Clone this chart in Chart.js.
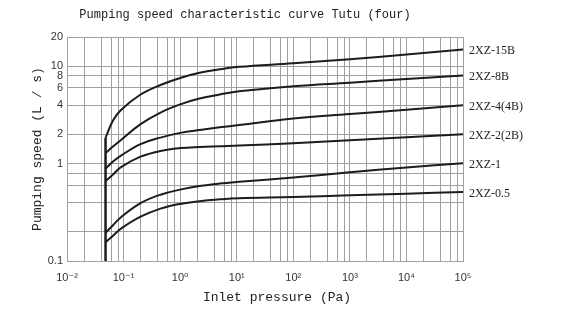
<!DOCTYPE html>
<html lang="en">
<head>
<meta charset="UTF-8">
<title>Pumping speed characteristic curve</title>
<style>
  html, body { margin: 0; padding: 0; background: #fff; }
</style>
</head>
<body>
<canvas id="myChart" width="571" height="323"></canvas>

<script src="https://cdn.jsdelivr.net/npm/chart.js@4.4.1/dist/chart.umd.min.js"></script>
<script>
// inlet pressure (Pa) where the curves were read
const pressure = [0.048, 0.065, 0.09, 0.2, 0.45, 1, 2.2, 5, 11, 100, 1000, 10000, 100000];

const pumpModels = ['2XZ-15B', '2XZ-8B', '2XZ-4(4B)', '2XZ-2(2B)', '2XZ-1', '2XZ-0.5'];

// pumping speed (L/s)
const speed15B = [1.84, 2.77, 3.56, 5.13, 6.43, 7.59, 8.57, 9.31, 9.87, 10.75, 11.85, 13.22, 14.9];
const speed8B  = [1.285, 1.5, 1.75, 2.55, 3.35, 4.06, 4.66, 5.13, 5.54, 6.25, 6.79, 7.4, 8.05];
const speed4B  = [0.89, 1.05, 1.21, 1.59, 1.85, 2.07, 2.22, 2.36, 2.49, 2.91, 3.23, 3.58, 3.97];
const speed2B  = [0.662, 0.772, 0.923, 1.18, 1.35, 1.444, 1.485, 1.51, 1.532, 1.62, 1.74, 1.87, 2.0];
const speed1   = [0.195, 0.233, 0.282, 0.393, 0.48, 0.541, 0.588, 0.624, 0.65, 0.721, 0.814, 0.914, 1.01];
const speed05  = [0.156, 0.182, 0.215, 0.285, 0.345, 0.386, 0.412, 0.43, 0.442, 0.454, 0.473, 0.492, 0.511];

// the common vertical start line
const riseX = [0.048, 0.048];
const riseY = [0.1, 1.84];

// axes
const xDecades = [0.01, 0.1, 1, 10, 100, 1000, 10000, 100000];
const xTickLabels = ['10⁻²', '10⁻¹', '10⁰', '10¹', '10²', '10³', '10⁴', '10⁵'];
const xMinor = [2, 4, 6, 8];
const yGrid = [0.1, 0.2, 0.4, 0.6, 0.8, 1, 2, 4, 6, 8, 10, 20];
const yTickLabels = ['0.1', '', '', '', '', '1', '2', '4', '6', '8', '10', '20'];

const xGrid = [];
xDecades.forEach((d, i) => {
  xGrid.push(d);
  if (i < xDecades.length - 1) xMinor.forEach(m => xGrid.push(Number((m * d).toPrecision(3))));
});

const curves = [speed15B, speed8B, speed4B, speed2B, speed1, speed05];
const lineColor = '#1c1c1c';

const datasets = curves.map((arr, i) => ({
  label: pumpModels[i],
  endLabel: pumpModels[i],
  data: pressure.map((p, j) => ({ x: p, y: arr[j] })),
  borderColor: lineColor,
  borderWidth: 2,
  pointRadius: 0,
  showLine: true,
  tension: 0.4
}));
datasets.push({
  label: 'start',
  data: riseX.map((x, j) => ({ x: x, y: riseY[j] })),
  borderColor: lineColor,
  borderWidth: 2.5,
  pointRadius: 0,
  showLine: true
});

// title, x title and the model names at the right
const captions = {
  id: 'captions',
  afterDatasetsDraw(chart) {
    const { ctx, chartArea } = chart;
    ctx.save();
    ctx.fillStyle = '#222';
    ctx.textBaseline = 'middle';
    ctx.textAlign = 'center';
    ctx.font = '12px "Liberation Mono", "DejaVu Sans Mono", monospace';
    ctx.fillText('Pumping speed characteristic curve Tutu (four)', 245, 15);
    ctx.font = '13px "Liberation Mono", "DejaVu Sans Mono", monospace';
    ctx.fillText('Inlet pressure (Pa)', 277, 298);

    ctx.textAlign = 'left';
    ctx.font = '12px "Liberation Serif", serif';
    chart.data.datasets.forEach((ds, i) => {
      if (!ds.endLabel) return;
      const pts = chart.getDatasetMeta(i).data;
      ctx.fillText(ds.endLabel, chartArea.right + 6, pts[pts.length - 1].y + 1.5);
    });
    ctx.restore();
  }
};

const ctx = document.getElementById('myChart');
const myChart = new Chart(ctx, {
  type: 'scatter',
  data: { datasets: datasets },
  plugins: [captions],
  options: {
    responsive: false,
    animation: false,
    layout: { padding: { top: 37, right: 108, bottom: 0, left: 0 } },
    plugins: {
      legend: { display: false },
      tooltip: { enabled: false }
    },
    scales: {
      x: {
        type: 'logarithmic',
        min: 0.01,
        max: 100000,
        afterBuildTicks: scale => { scale.ticks = xGrid.map(v => ({ value: v })); },
        afterFit: scale => { scale.height = 62; },
        grid: { color: '#a0a0a0', drawTicks: false },
        border: { color: '#a0a0a0' },
        ticks: {
          autoSkip: false,
          maxRotation: 0,
          padding: 10,
          color: '#333',
          font: { family: '"Liberation Sans", "DejaVu Sans", sans-serif', size: 11 },
          callback: value => {
            const i = xDecades.indexOf(value);
            return i >= 0 ? xTickLabels[i] : '';
          }
        }
      },
      y: {
        type: 'logarithmic',
        min: 0.1,
        max: 20,
        afterBuildTicks: scale => { scale.ticks = yGrid.map(v => ({ value: v })); },
        afterFit: scale => { scale.width = 67; },
        grid: { color: '#a0a0a0', drawTicks: false },
        border: { color: '#a0a0a0' },
        ticks: {
          autoSkip: false,
          padding: 4,
          color: '#333',
          font: { family: '"Liberation Sans", "DejaVu Sans", sans-serif', size: 11 },
          callback: (value, index) => yTickLabels[index]
        },
        title: {
          display: true,
          text: 'Pumping speed (L / s)',
          color: '#222',
          font: { family: '"Liberation Mono", "DejaVu Sans Mono", monospace', size: 13 },
          padding: { top: 30, bottom: 0 }
        }
      }
    }
  }
});
</script>
</body>
</html>
